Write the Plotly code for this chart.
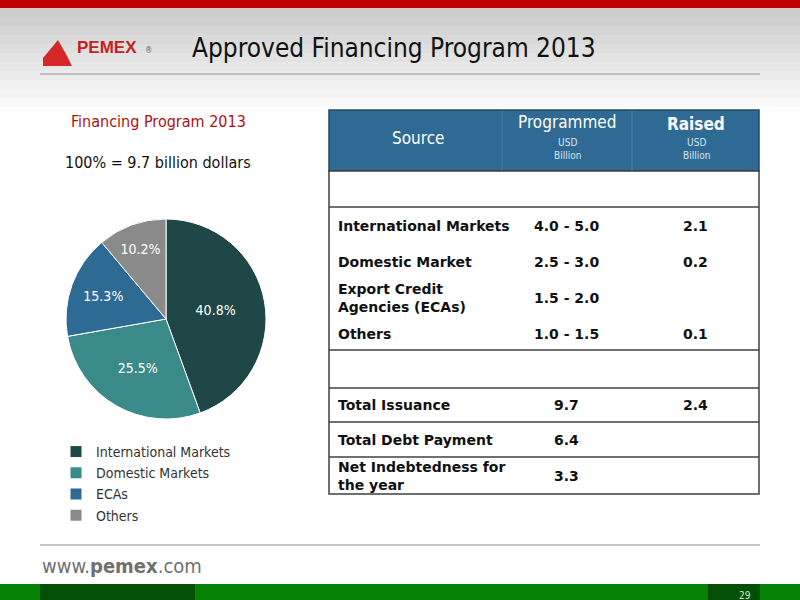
import plotly.graph_objects as go

# pie data
pie_labels = ["International Markets", "Domestic Markets", "ECAs", "Others"]
pie_values = [40.8, 25.5, 15.3, 10.2]
pie_colors = ["#1f4747", "#3a8a8a", "#2d6a94", "#8a8a8a"]

# table data
row_source = ["", "International Markets", "Domestic Market", "Export Credit<br>Agencies (ECAs)",
              "Others", "", "Total Issuance", "Total Debt Payment", "Net Indebtedness for<br>the year"]
row_programmed = ["", "4.0 - 5.0", "2.5 - 3.0", "1.5 - 2.0", "1.0 - 1.5", "", "9.7", "6.4", "3.3"]
row_raised = ["", "2.1", "0.2", "", "0.1", "", "2.4", "", ""]
row_centers = [189, 226, 262, 298, 334, 369, 405, 440, 476]

FONT = "DejaVu Sans Condensed, DejaVu Sans"
W, H = 800, 600


def py(y):
    return 1 - y / H


def px(x):
    return x / W


fig = go.Figure()
fig.add_trace(go.Pie(
    labels=pie_labels, values=pie_values, sort=False, direction="clockwise", rotation=0,
    marker=dict(colors=pie_colors, line=dict(color="white", width=1)),
    textinfo="percent", texttemplate="%{value:.1f}%", textposition="inside",
    insidetextfont=dict(color="white", size=14, family=FONT),
    domain=dict(x=[px(66), px(266)], y=[py(419), py(219)]),
))

shapes = []
# background gradient at top
steps = 12
for i in range(steps):
    g = int(205 + (255 - 205) * i / (steps - 1))
    shapes.append(dict(type="rect", xref="paper", yref="paper", x0=0, x1=1,
                       y0=py(8 + (i + 1) * 9), y1=py(8 + i * 9),
                       fillcolor=f"rgb({g},{g},{g})", line_width=0, layer="below"))
shapes.append(dict(type="rect", xref="paper", yref="paper", x0=0, x1=1, y0=py(8), y1=1,
                   fillcolor="#c00000", line_width=0))
shapes.append(dict(type="line", xref="paper", yref="paper", x0=px(40), x1=px(760), y0=py(74), y1=py(74),
                   line=dict(color="#b0b0b0", width=1.5)))
shapes.append(dict(type="line", xref="paper", yref="paper", x0=px(40), x1=px(760), y0=py(545), y1=py(545),
                   line=dict(color="#b0b0b0", width=1.5)))
shapes.append(dict(type="rect", xref="paper", yref="paper", x0=0, x1=1, y0=0, y1=py(584),
                   fillcolor="#058205", line_width=0))
for a, b in [(40, 195), (708, 760)]:
    shapes.append(dict(type="rect", xref="paper", yref="paper", x0=px(a), x1=px(b), y0=0, y1=py(584),
                       fillcolor="#034f03", line_width=0))
# logo flame
shapes.append(dict(type="path", xref="paper", yref="paper",
                   path=f"M {px(43)} {py(58)} L {px(58)} {py(40)} L {px(66)} {py(54)} L {px(72)} {py(66)} L {px(43)} {py(66)} Z",
                   fillcolor="#d62828", line_width=0))
# table header
shapes.append(dict(type="rect", xref="paper", yref="paper", x0=px(329), x1=px(759), y0=py(171), y1=py(110),
                   fillcolor="#2e6a94", line=dict(color="#1f4a6a", width=1.5)))
for x in [502, 632]:
    shapes.append(dict(type="line", xref="paper", yref="paper", x0=px(x), x1=px(x), y0=py(170), y1=py(111),
                       line=dict(color="#4a82aa", width=1)))
shapes.append(dict(type="rect", xref="paper", yref="paper", x0=px(329), x1=px(759), y0=py(494), y1=py(171),
                   fillcolor="white", line=dict(color="#404040", width=1.5)))
for y in [207, 350, 388, 422, 457]:
    shapes.append(dict(type="line", xref="paper", yref="paper", x0=px(329), x1=px(759), y0=py(y), y1=py(y),
                       line=dict(color="#404040", width=1.5)))

ann = []


def text(x, y, s, size, color="black", anchor="left", bold=False, family=FONT):
    ann.append(dict(xref="paper", yref="paper", x=px(x), y=py(y), text=f"<b>{s}</b>" if bold else s,
                    showarrow=False, xanchor=anchor, yanchor="middle", align=anchor,
                    font=dict(size=size, color=color, family=family)))


text(75, 48, "PEMEX", 17, "#c81e1e", bold=True, family="Liberation Sans")
text(143, 50, "®", 8, "#666666")
text(190, 48, "Approved Financing Program 2013", 26, "#111111")
text(158, 121, "Financing Program 2013", 16, "#b01010", anchor="center")
text(158, 162, "100% = 9.7 billion dollars", 16, "#111111", anchor="center")
text(40, 566, "www.<b>pemex</b>.com", 20, "#707070")
text(745, 595, "29", 10, "#cfe8cf", anchor="center")
text(418, 138, "Source", 17, "white", anchor="center")
text(567, 122, "Programmed", 17, "white", anchor="center")
text(567, 149, "USD<br>Billion", 10, "#d8e6f0", anchor="center")
text(696, 124, "Raised", 17, "white", anchor="center", bold=True)
text(696, 149, "USD<br>Billion", 10, "#d8e6f0", anchor="center")
for yc, s, p, r in zip(row_centers, row_source, row_programmed, row_raised):
    if s:
        text(336, yc, s, 14, "#111111", bold=True, family="DejaVu Sans")
    if p:
        text(566, yc, p, 14, "#111111", anchor="center", bold=True, family="DejaVu Sans")
    if r:
        text(695, yc, r, 14, "#111111", anchor="center", bold=True, family="DejaVu Sans")

fig.update_layout(
    width=W, height=H, margin=dict(l=0, r=0, t=0, b=0),
    paper_bgcolor="white", plot_bgcolor="white",
    shapes=shapes, annotations=ann,
    showlegend=True,
    legend=dict(x=px(56), y=py(436), xanchor="left", yanchor="top",
                font=dict(size=14, color="#333333", family=FONT),
                itemwidth=30, tracegroupgap=0, bgcolor="rgba(0,0,0,0)"),
)
fig.write_html("out.html", config={"displayModeBar": False},
               post_script="document.body.style.margin='0';document.body.style.overflow='hidden';")
